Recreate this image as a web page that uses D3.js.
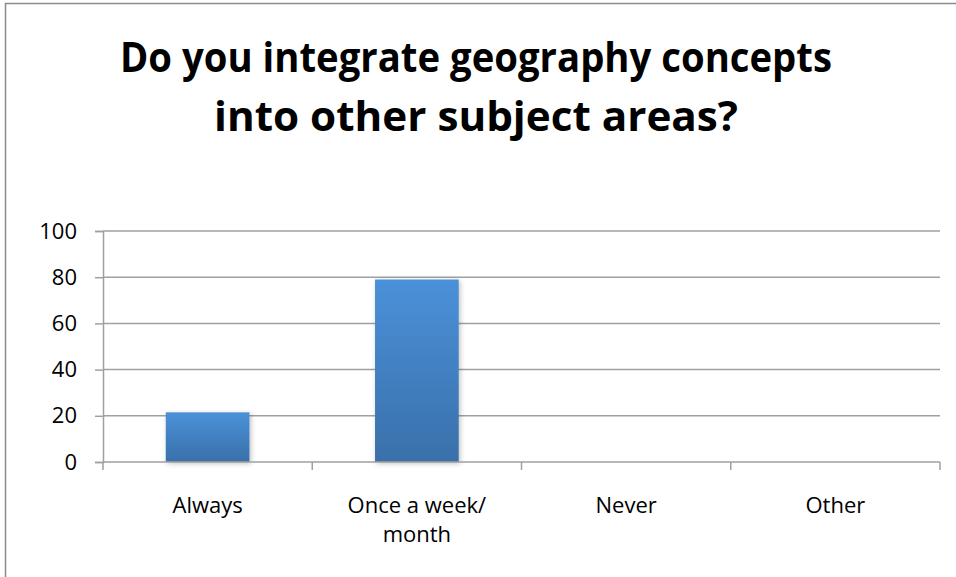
<!DOCTYPE html>
<html>
<head>
<meta charset="utf-8">
<script src="https://cdn.jsdelivr.net/npm/d3@7"></script>
<style>
  body { margin: 0; background: #fff; }
  svg { display: block; }
</style>
</head>
<body>
<div id="chart"></div>
<script>
const titleLines = ["Do you integrate geography concepts", "into other subject areas?"];
const categories = ["Always", "Once a week/\nmonth", "Never", "Other"];
const values = [21.5, 79, 0, 0];
const yTicks = [0, 20, 40, 60, 80, 100];

const width = 956, height = 577;
const plot = { left: 103, right: 940, top: 231, bottom: 462 };

const svg = d3.select("#chart").append("svg")
  .attr("width", width)
  .attr("height", height);

const defs = svg.append("defs");
const grad = defs.append("linearGradient")
  .attr("id", "barGrad")
  .attr("x1", 0).attr("y1", 0).attr("x2", 0).attr("y2", 1);
grad.append("stop").attr("offset", "0%").attr("stop-color", "#4a91d9");
grad.append("stop").attr("offset", "100%").attr("stop-color", "#3a70aa");

const shadow = defs.append("filter").attr("id", "shadow")
  .attr("x", "-20%").attr("y", "-20%").attr("width", "140%").attr("height", "140%");
shadow.append("feDropShadow")
  .attr("dx", 1.5).attr("dy", 1.5).attr("stdDeviation", 2.5)
  .attr("flood-color", "#000").attr("flood-opacity", 0.25);

// chart frame
svg.append("rect")
  .attr("x", 5.5).attr("y", 3.5)
  .attr("width", 1000).attr("height", 700)
  .attr("fill", "#fff")
  .attr("stroke", "#8c8c8c")
  .attr("stroke-width", 1.5);

// title
const title = svg.append("g")
  .attr("font-family", "'Open Sans', sans-serif")
  .attr("font-weight", "bold")
  .attr("font-size", 41)
  .attr("text-anchor", "middle")
  .attr("fill", "#000");
title.append("text").attr("x", 476).attr("y", 72)
  .attr("textLength", 712).attr("lengthAdjust", "spacingAndGlyphs")
  .text(titleLines[0]);
title.append("text").attr("x", 476).attr("y", 131)
  .attr("textLength", 524).attr("lengthAdjust", "spacingAndGlyphs")
  .text(titleLines[1]);

const x = d3.scaleBand()
  .domain(categories)
  .range([plot.left, plot.right])
  .paddingInner(0.6)
  .paddingOuter(0.3);

const y = d3.scaleLinear()
  .domain([0, 100])
  .range([plot.bottom, plot.top]);

// gridlines
svg.append("g")
  .selectAll("line")
  .data(yTicks.filter(d => d > 0))
  .join("line")
  .attr("x1", plot.left).attr("x2", plot.right)
  .attr("y1", d => y(d)).attr("y2", d => y(d))
  .attr("stroke", "#a0a0a0")
  .attr("stroke-width", 1.5);

// y axis
const yAxis = svg.append("g")
  .attr("transform", `translate(${plot.left},0)`)
  .call(d3.axisLeft(y).tickValues(yTicks).tickSize(8).tickPadding(18));
yAxis.select(".domain").attr("stroke", "#a0a0a0").attr("stroke-width", 1.5);
yAxis.selectAll(".tick line").attr("stroke", "#a0a0a0").attr("stroke-width", 1.5);
yAxis.selectAll(".tick text")
  .attr("font-family", "'Open Sans', sans-serif")
  .attr("font-size", 22)
  .attr("fill", "#000");

// bars
svg.append("g")
  .selectAll("rect")
  .data(categories.map((c, i) => ({ c, v: values[i] })).filter(d => d.v > 0))
  .join("rect")
  .attr("x", d => x(d.c))
  .attr("width", x.bandwidth())
  .attr("y", d => y(d.v))
  .attr("height", d => y(0) - y(d.v))
  .attr("fill", "url(#barGrad)")
  .attr("filter", "url(#shadow)");

// x axis baseline with boundary ticks
const step = x.step();
const bounds = d3.range(categories.length + 1).map(i => plot.left + i * step);
const xAxis = svg.append("g");
xAxis.append("line")
  .attr("x1", plot.left).attr("x2", plot.right)
  .attr("y1", y(0)).attr("y2", y(0))
  .attr("stroke", "#a0a0a0").attr("stroke-width", 1.5);
xAxis.selectAll("line.tk")
  .data(bounds)
  .join("line")
  .attr("class", "tk")
  .attr("x1", d => d).attr("x2", d => d)
  .attr("y1", y(0)).attr("y2", y(0) + 8)
  .attr("stroke", "#a0a0a0").attr("stroke-width", 1.5);

// category labels
const labels = svg.append("g")
  .attr("font-family", "'Open Sans', sans-serif")
  .attr("font-size", 22)
  .attr("text-anchor", "middle")
  .attr("fill", "#000");
categories.forEach(c => {
  const t = labels.append("text")
    .attr("x", x(c) + x.bandwidth() / 2)
    .attr("y", 513);
  c.split("\n").forEach((line, i) => {
    t.append("tspan")
      .attr("x", x(c) + x.bandwidth() / 2)
      .attr("dy", i === 0 ? 0 : 29)
      .text(line);
  });
});
</script>
</body>
</html>
